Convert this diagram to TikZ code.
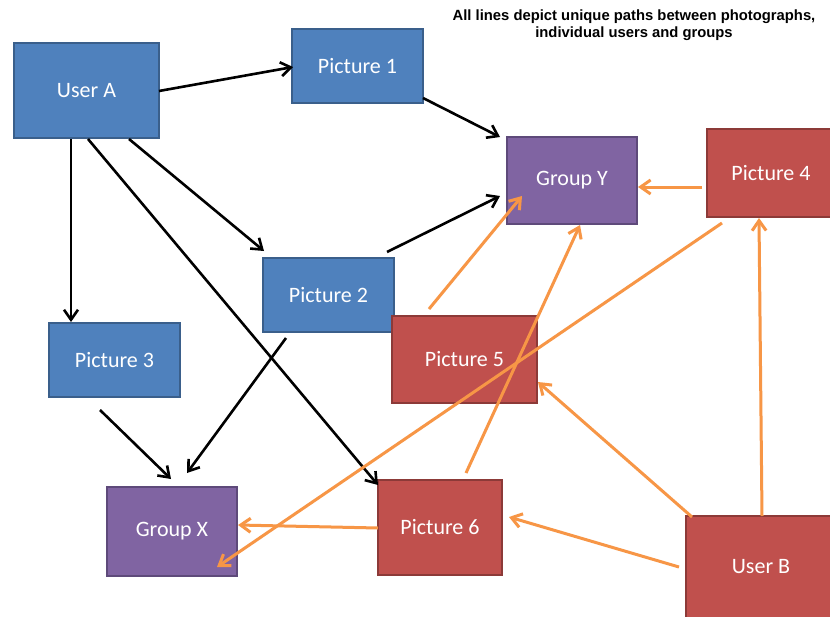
\documentclass[tikz,border=0pt]{standalone}
\usepackage{fontspec}
\setmainfont{Carlito}
\newfontfamily\titlefont{Liberation Sans}
\usetikzlibrary{arrows.meta}
\definecolor{bfill}{HTML}{4F81BD}
\definecolor{bline}{HTML}{3A5F8B}
\definecolor{pfill}{HTML}{8064A2}
\definecolor{pline}{HTML}{5E4A7A}
\definecolor{rfill}{HTML}{C0504D}
\definecolor{rline}{HTML}{8C3A38}
\definecolor{orng}{HTML}{F79646}
\tikzset{
  box/.style={rectangle, line width=2pt, text=white, font=\fontsize{22}{26}\selectfont, inner sep=0pt},
  bluebox/.style={box, fill=bfill, draw=bline},
  purplebox/.style={box, fill=pfill, draw=pline},
  redbox/.style={box, fill=rfill, draw=rline},
  blk/.style={draw=black, line width=2.6pt, -{Straight Barb[length=10pt,width=14pt]}},
  org/.style={draw=orng, line width=3pt, -{Straight Barb[length=10pt,width=14pt]}},
}
\begin{document}
\begin{tikzpicture}[x=1pt,y=-1pt]
\useasboundingbox (0,0) rectangle (830,616);
\clip (0,0) rectangle (830,616);
\fill[white] (0,0) rectangle (830,616);

\node[font=\titlefont\bfseries\fontsize{14.8}{17}\selectfont, align=center, anchor=north] (title) at (634,6)
  {All lines depict unique paths between photographs,\\individual users and groups};

\node[bluebox, minimum width=145pt, minimum height=95pt] (userA) at (86.5,90.5) {User A};
\node[bluebox, minimum width=131pt, minimum height=74pt] (pic1) at (357.5,66) {Picture 1};
\node[purplebox, minimum width=130pt, minimum height=87pt] (groupY) at (572,180.5) {Group Y};
\node[redbox, minimum width=128pt, minimum height=88pt] (pic4) at (771,173) {Picture 4};
\node[bluebox, minimum width=131pt, minimum height=74pt] (pic2) at (328.5,295) {Picture 2};
\node[redbox, minimum width=145pt, minimum height=87pt] (pic5) at (464.5,359.5) {Picture 5};
\node[bluebox, minimum width=131pt, minimum height=74pt] (pic3) at (114.5,360) {Picture 3};
\node[purplebox, minimum width=130pt, minimum height=89pt] (groupX) at (172,531.5) {Group X};
\node[redbox, minimum width=124pt, minimum height=95pt] (pic6) at (440,527.5) {Picture 6};
\node[redbox, minimum width=150pt, minimum height=102pt] (userB) at (761,567) {User B};

% black connectors
\draw[blk] ([shift={(72.5,0.5)}]userA.center) -- ([shift={(-64.5,1)}]pic1.center);
\draw[blk] ([shift={(65.5,32)}]pic1.center) -- ([shift={(-72,-43.5)}]groupY.center);
\draw[blk] ([shift={(42.5,48.5)}]userA.center) -- ([shift={(-64.5,-44)}]pic2.center);
\draw[blk] ([shift={(-15.5,48.5)}]userA.center) -- ([shift={(-43.5,-38)}]pic3.center);
\draw[blk] ([shift={(1.5,48.5)}]userA.center) -- ([shift={(-62,-42.5)}]pic6.center);
\draw[blk] ([shift={(58.5,-43)}]pic2.center) -- ([shift={(-72,15.5)}]groupY.center);
\draw[blk] ([shift={(-14.5,50)}]pic3.center) -- ([shift={(-1,-52.5)}]groupX.center);
\draw[blk] ([shift={(-42.5,43)}]pic2.center) -- ([shift={(15,-58.5)}]groupX.center);

% orange connectors
\draw[org] ([shift={(-69,14)}]pic4.center) -- ([shift={(66,6.5)}]groupY.center);
\draw[org] ([shift={(-35.5,-50.5)}]pic5.center) -- ([shift={(-50,15.5)}]groupY.center);
\draw[org] ([shift={(26,-54.5)}]pic6.center) -- ([shift={(8,44.5)}]groupY.center);
\draw[org] ([shift={(-49,50)}]pic4.center) -- ([shift={(45,35.5)}]groupX.center);
\draw[org] ([shift={(1,-51)}]userB.center) -- ([shift={(-12,45)}]pic4.center);
\draw[org] ([shift={(-69,-50)}]userB.center) -- ([shift={(73.5,22.5)}]pic5.center);
\draw[org] ([shift={(-82,0)}]userB.center) -- ([shift={(69,-10.5)}]pic6.center);
\draw[org] ([shift={(-62,0.5)}]pic6.center) -- ([shift={(66,-6.5)}]groupX.center);
\end{tikzpicture}
\end{document}
